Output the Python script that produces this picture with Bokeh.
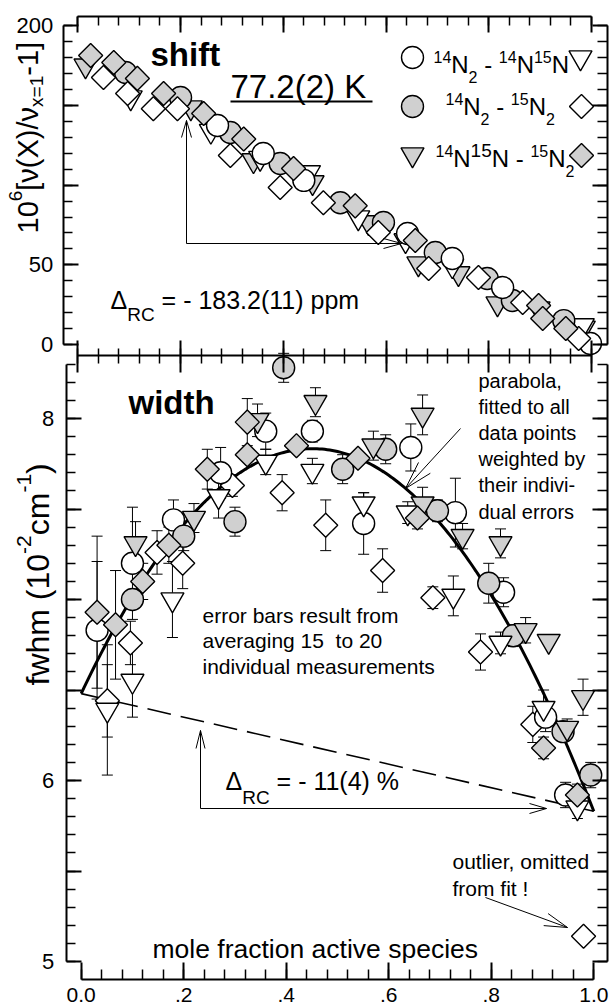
import numpy as np
from bokeh.plotting import figure
from bokeh.models import Range1d, LinearAxis, FixedTicker
from bokeh.core.properties import value
from bokeh.embed import file_html
from bokeh.resources import INLINE

# ---------------- data ----------------
# upper panel: shift 10^6[nu(X)/nu(x=1) - 1]  vs mole fraction
shift_oc_x = [0.272, 0.361, 0.440, 0.642, 0.729, 0.827, 0.998]
shift_oc_y = [137.4, 119.9, 103.0, 69.7, 54.0, 35.8, 0.6]
shift_ot_x = [0.103, 0.259, 0.355, 0.450, 0.546, 0.638, 0.729, 0.983]
shift_ot_y = [155.0, 134.0, 117.0, 108.0, 79.7, 65.3, 49.6, 12.0]
shift_gc_x = [0.093, 0.200, 0.297, 0.394, 0.511, 0.595, 0.696, 0.797, 0.846, 0.946]
shift_gc_y = [170.7, 155.0, 133.0, 113.6, 89.0, 76.6, 57.7, 41.4, 27.6, 15.0]
shift_od_x = [0.050, 0.097, 0.147, 0.194, 0.297, 0.394, 0.478, 0.585, 0.683, 0.780, 0.866, 0.975]
shift_od_y = [167.6, 157.5, 148.0, 148.0, 118.6, 98.5, 89.0, 70.3, 47.7, 42.0, 26.4, 3.8]
shift_gt_x = [0.015, 0.220, 0.342, 0.457, 0.566, 0.663, 0.741, 0.817, 0.897, 0.985]
shift_gt_y = [175.0, 148.7, 115.5, 101.7, 76.6, 50.8, 44.6, 25.7, 22.6, 10.5]
shift_gd_x = [0.025, 0.070, 0.116, 0.167, 0.245, 0.323, 0.420, 0.540, 0.657, 0.897, 0.905, 0.950]
shift_gd_y = [181.4, 177.0, 167.0, 157.5, 145.0, 129.0, 110.4, 87.0, 65.3, 24.5, 16.3, 10.0]

# lower panel: fwhm (10^-2 cm^-1) with error bars
width_oc_x = [0.031, 0.100, 0.180, 0.272, 0.360, 0.451, 0.551, 0.643, 0.730, 0.824, 0.906, 0.945]
width_oc_y = [6.83, 7.20, 7.44, 7.70, 7.93, 7.93, 7.42, 7.84, 7.48, 7.04, 6.35, 5.92]
width_oc_e = [0.38, 0.31, 0.11, 0.14, 0.10, 0.06, 0.17, 0.13, 0.19, 0.08, 0.08, 0.07]
width_ot_x = [0.051, 0.100, 0.178, 0.268, 0.360, 0.451, 0.551, 0.637, 0.726, 0.818, 0.902, 0.968]
width_ot_y = [6.39, 6.55, 7.00, 7.57, 7.76, 7.71, 7.53, 7.48, 7.02, 6.76, 6.40, 5.85]
width_ot_e = [0.36, 0.20, 0.21, 0.12, 0.07, 0.07, 0.06, 0.06, 0.11, 0.06, 0.10, 0.06]
width_gc_x = [0.100, 0.200, 0.300, 0.395, 0.510, 0.594, 0.695, 0.795, 0.843, 0.940, 0.994]
width_gc_y = [7.00, 7.35, 7.43, 8.28, 7.72, 7.83, 7.49, 7.09, 6.80, 6.27, 6.03]
width_gc_e = [0.05, 0.08, 0.08, 0.08, 0.08, 0.08, 0.06, 0.11, 0.06, 0.05, 0.07]
width_od_x = [0.051, 0.096, 0.148, 0.198, 0.295, 0.392, 0.477, 0.588, 0.686, 0.779, 0.881, 0.980]
width_od_y = [6.44, 6.76, 7.26, 7.20, 7.63, 7.59, 7.41, 7.16, 7.01, 6.71, 6.31, 5.14]
width_od_e = [0.20, 0.12, 0.12, 0.14, 0.06, 0.10, 0.14, 0.12, 0.06, 0.10, 0.10, 0.0]
width_gt_x = [0.106, 0.220, 0.344, 0.457, 0.570, 0.666, 0.666, 0.744, 0.818, 0.867, 0.912, 0.948, 0.979]
width_gt_y = [7.31, 7.45, 7.99, 8.09, 7.85, 8.02, 7.53, 7.35, 7.31, 6.83, 6.77, 6.29, 6.46]
width_gt_e = [0.12, 0.08, 0.09, 0.08, 0.08, 0.11, 0.09, 0.07, 0.08, 0.07, 0.02, 0.05, 0.10]
width_gd_x = [0.031, 0.067, 0.120, 0.171, 0.246, 0.324, 0.324, 0.420, 0.540, 0.656, 0.902, 0.968]
width_gd_y = [6.93, 6.86, 7.10, 7.30, 7.72, 7.98, 7.80, 7.85, 7.78, 7.45, 6.18, 5.92]
width_gd_e = [0.42, 0.30, 0.10, 0.10, 0.11, 0.13, 0.0, 0.0, 0.0, 0.06, 0.06, 0.06]

# weighted parabola fit  fwhm = a + b*x + c*x^2
fit_a, fit_b, fit_c = 6.48, 6.00, -6.65

# axis ticks
x_major = [0, 0.2, 0.4, 0.6, 0.8, 1]
x_minor = [round(0.04 * i, 2) for i in range(26)]
x_labels = {0: "0.0", 0.2: ".2", 0.4: ".4", 0.6: ".6", 0.8: ".8", 1: "1.0"}
s_major = [0, 50, 100, 150, 200]
s_minor = list(range(0, 201, 10))
s_labels = {0: "0", 50: "50", 100: "", 150: "", 200: "200"}
w_major = [5, 5.5, 6, 6.5, 7, 7.5, 8]
w_minor = [round(5 + 0.1 * i, 1) for i in range(34)]
w_labels = {5: "5", 5.5: "", 6: "6", 6.5: "", 7: "", 7.5: "", 8: "8"}

# ---------------- layout (page pixels) ----------------
FONT = "Liberation Sans"
W, H = 610, 1006
BX0, BX1 = 80.7, 593.3     # lower x-scale: x=0, x=1
TX0, TX1 = 77.3, 591.0     # upper x-scale
WY5, WY8 = 961.0, 418.0    # fwhm 5 and 8
SY0, SY200 = 344.0, 25.3   # shift 0 and 200
MID = 0.3465               # em offset from text middle to baseline


def bx(px):
    return (px - BX0) / (BX1 - BX0)


def tx(px):
    return (px - TX0) / (TX1 - TX0)


def wy(py):
    return 5 + (WY5 - py) * 3.0 / (WY5 - WY8)


def sy(py):
    return (SY0 - py) * 200.0 / (SY0 - SY200)


p = figure(width=W, height=H, output_backend="svg", toolbar_location=None,
           x_range=Range1d(bx(0), bx(W)), y_range=Range1d(wy(H), wy(0)),
           x_axis_type=None, y_axis_type=None, min_border=0)
p.extra_x_ranges = {"top": Range1d(tx(0), tx(W))}
p.extra_y_ranges = {"shift": Range1d(sy(H), sy(0))}
p.outline_line_color = None
p.background_fill_color = "white"
p.border_fill_color = "white"

AX = dict(axis_line_width=2, axis_line_color="black",
          major_tick_line_width=2, minor_tick_line_width=1.5,
          major_tick_line_color="black", minor_tick_line_color="black",
          major_label_text_font=FONT, major_label_text_color="black")


def hidden_labels(ax):
    ax.major_label_text_color = None
    return ax


# top x axis of upper panel
ax = LinearAxis(x_range_name="top", fixed_location=wy(16), bounds=(0, 1),
                ticker=FixedTicker(ticks=x_major, minor_ticks=x_minor),
                major_tick_in=16, major_tick_out=0, minor_tick_in=9, minor_tick_out=0, **AX)
p.add_layout(hidden_labels(ax), "above")
# shared middle axis
ax = LinearAxis(x_range_name="top", fixed_location=wy(355), bounds=(0, 1),
                ticker=FixedTicker(ticks=x_major, minor_ticks=x_minor),
                major_tick_in=15, major_tick_out=17, minor_tick_in=7, minor_tick_out=8, **AX)
p.add_layout(hidden_labels(ax), "below")
# bottom x axis
ax = LinearAxis(fixed_location=wy(979), bounds=(0, 1),
                ticker=FixedTicker(ticks=x_major, minor_ticks=x_minor),
                major_tick_in=17, major_tick_out=0, minor_tick_in=10, minor_tick_out=0,
                major_label_overrides=x_labels, major_label_standoff=8,
                major_label_text_font_size="21px", **AX)
p.add_layout(ax, "below")
# left axes
ax = LinearAxis(y_range_name="shift", fixed_location=bx(62.7), bounds=(0, 200),
                ticker=FixedTicker(ticks=s_major, minor_ticks=s_minor),
                major_tick_in=15, major_tick_out=0, minor_tick_in=9, minor_tick_out=0,
                major_label_overrides=s_labels, major_label_standoff=10,
                major_label_text_font_size="22px", **AX)
p.add_layout(ax, "left")
ax = LinearAxis(fixed_location=bx(65.7), bounds=(5, 8.3),
                ticker=FixedTicker(ticks=w_major, minor_ticks=w_minor),
                major_tick_in=15, major_tick_out=0, minor_tick_in=9, minor_tick_out=0,
                major_label_overrides=w_labels, major_label_standoff=12,
                major_label_text_font_size="22px", **AX)
p.add_layout(ax, "left")
# right axes
ax = LinearAxis(y_range_name="shift", fixed_location=bx(606.7), bounds=(0, 200),
                ticker=FixedTicker(ticks=s_major, minor_ticks=s_minor),
                major_tick_in=15, major_tick_out=0, minor_tick_in=10, minor_tick_out=0, **AX)
p.add_layout(hidden_labels(ax), "right")
ax = LinearAxis(fixed_location=bx(606.7), bounds=(5, 8.3),
                ticker=FixedTicker(ticks=w_major, minor_ticks=w_minor),
                major_tick_in=15, major_tick_out=0, minor_tick_in=10, minor_tick_out=0, **AX)
p.add_layout(hidden_labels(ax), "right")

GREY = "#d0d0d0"
STY = {
    "oc": dict(marker="circle", size=22, fill_color="white", angle=0.0),
    "gc": dict(marker="circle", size=22, fill_color=GREY, angle=0.0),
    "ot": dict(marker="inverted_triangle", size=23, fill_color="white", angle=0.0),
    "gt": dict(marker="inverted_triangle", size=23, fill_color=GREY, angle=0.0),
    "od": dict(marker="square", size=17, fill_color="white", angle=np.pi / 4),
    "gd": dict(marker="square", size=17, fill_color=GREY, angle=np.pi / 4),
}


def markers(key, xs, ys, **kw):
    s = STY[key]
    p.scatter(xs, ys, marker=s["marker"], size=s["size"], angle=s["angle"],
              fill_color=s["fill_color"], line_color="black", line_width=1.4, **kw)


# ---------------- upper panel ----------------
top = dict(x_range_name="top", y_range_name="shift")
markers("gt", shift_gt_x, shift_gt_y, **top)
markers("ot", shift_ot_x, shift_ot_y, **top)
markers("gc", shift_gc_x, shift_gc_y, **top)
markers("oc", shift_oc_x, shift_oc_y, **top)
markers("od", shift_od_x, shift_od_y, **top)
markers("gd", shift_gd_x, shift_gd_y, **top)

# ---------------- lower panel ----------------
lower = [("od", width_od_x, width_od_y, width_od_e),
         ("oc", width_oc_x, width_oc_y, width_oc_e),
         ("gc", width_gc_x, width_gc_y, width_gc_e),
         ("ot", width_ot_x, width_ot_y, width_ot_e),
         ("gt", width_gt_x, width_gt_y, width_gt_e),
         ("gd", width_gd_x, width_gd_y, width_gd_e)]
for key, xs, ys, es in lower:
    xe = [x for x, e in zip(xs, es) if e > 0]
    lo = [y - e for y, e in zip(ys, es) if e > 0]
    hi = [y + e for y, e in zip(ys, es) if e > 0]
    p.segment(xe, lo, xe, hi, line_color="black", line_width=1)
    p.scatter(xe + xe, lo + hi, marker="dash", size=11, line_color="black", line_width=1)

xf = np.linspace(0, 1, 201)
p.line(xf, fit_a + fit_b * xf + fit_c * xf ** 2, line_color="black", line_width=3)
p.line([0, 1], [fit_a, fit_a + fit_b + fit_c], line_color="black", line_width=1.6,
       line_dash="24 10")

for key, xs, ys, es in lower:
    markers(key, xs, ys)

# ---------------- texts & decorations ----------------
ADV = {' ': 278, '!': 278, '%': 889, '(': 333, ')': 333, ',': 278, '-': 333, '.': 278,
       '/': 278, '=': 584, '[': 278, ']': 278, 'C': 722, 'K': 667, 'N': 722, 'R': 722,
       'X': 667, 'a': 556, 'b': 556, 'c': 500, 'd': 556, 'e': 556, 'f': 278, 'g': 556,
       'h': 556, 'i': 222, 'l': 222, 'm': 833, 'n': 556, 'o': 556, 'p': 556, 'r': 333,
       's': 500, 't': 278, 'u': 556, 'v': 500, 'w': 722, 'x': 500, 'y': 500,
       '\u0394': 668, '\u03bd': 500}


def tw(s, size):
    return sum(ADV.get(ch, 556) for ch in s) / 1000.0 * size


def put(s, px, py, size, vertical=False, bold=False):
    """px, py: start of the text on its baseline (page pixels)."""
    if vertical:
        ax_, ay_, ang = px - MID * size, py, np.pi / 2
    else:
        ax_, ay_, ang = px, py - MID * size, 0.0
    p.text(x=[bx(ax_)], y=[wy(ay_)], text=[s], text_font=value(FONT),
           text_font_size=f"{size}px", text_font_style="bold" if bold else "normal",
           text_align="left", text_baseline="middle", angle=ang, text_color="black")


def rich(pieces, px, py, vertical=False):
    pos = py if vertical else px
    for t, size, sh in pieces:
        lead = (len(t) - len(t.lstrip(" "))) * 0.278 * size
        trail = (len(t) - len(t.rstrip(" "))) * 0.278 * size
        core = t.strip(" ")
        if vertical:
            pos -= lead
            put(core, px + sh, pos, size, vertical=True)
            pos -= tw(core, size) + trail
        else:
            pos += lead
            put(core, pos, py + sh, size)
            pos += tw(core, size) + trail


def seg(pts, lw=1.0):
    p.line([bx(a) for a, b in pts], [wy(b) for a, b in pts], line_color="black", line_width=lw)


def arrow(tail, tip, hl, hw, lw=1.0):
    seg([tail, tip], lw)
    dx, dy = tip[0] - tail[0], tip[1] - tail[1]
    L = (dx * dx + dy * dy) ** 0.5
    ux, uy = dx / L, dy / L
    nx, ny = -uy, ux
    bxp, byp = tip[0] - ux * hl, tip[1] - uy * hl
    seg([(bxp + nx * hw, byp + ny * hw), tip, (bxp - nx * hw, byp - ny * hw)], lw)


put("shift", 150, 65, 33, bold=True)
put("77.2(2) K", 230, 97, 33)
seg([(230, 101), (372, 101)], 1.8)


def legend_marker(key, px, py):
    s = STY[key]
    p.scatter([bx(px)], [wy(py)], marker=s["marker"], size=s["size"], angle=s["angle"],
              fill_color=s["fill_color"], line_color="black", line_width=1.4)


legend_marker("oc", 412, 57)
legend_marker("ot", 580, 57)
legend_marker("gc", 412, 106)
legend_marker("od", 581, 106)
legend_marker("gt", 412, 154)
legend_marker("gd", 581, 155)
rich([("14", 16, -10), ("N", 24, 0), ("2", 16, 10), (" - ", 24, 0), ("14", 16, -10),
      ("N", 24, 0), ("15", 16, -10), ("N", 24, 0)], 433, 72)
rich([("14", 16, -10), ("N", 24, 0), ("2", 16, 10), (" - ", 24, 0), ("15", 16, -10),
      ("N", 24, 0), ("2", 16, 10)], 445, 114)
rich([("14", 16, -10), ("N", 24, 0), ("15", 19, -9), ("N", 24, 0), (" - ", 24, 0),
      ("15", 16, -10), ("N", 24, 0), ("2", 16, 10)], 435, 166)

rich([("\u0394", 25, 0), ("RC", 19, 13), (" = - 183.2(11) ppm", 25, 0)], 110, 308)
arrow((186, 243), (186, 120), 17, 5)
arrow((186, 243), (401, 243), 18, 5)

put("width", 128, 413, 33, bold=True)
for i, line in enumerate(["parabola,", "fitted to all", "data points", "weighted by",
                          "their indivi-", "dual errors"]):
    put(line, 478, 387 + 26.2 * i, 20)
arrow((460, 428), (405, 488), 28, 8)
for i, line in enumerate(["error bars result from", "averaging 15 \u00a0to 20",
                          "individual measurements"]):
    put(line, 202, 622 + 25.5 * i, 21)
rich([("\u0394", 25, 0), ("RC", 19, 15), (" = - 11(4) %", 25, 0)], 225, 789)
arrow((200, 808), (200, 730), 18, 4.5)
arrow((200, 808), (546, 808), 17, 5)
for i, line in enumerate(["outlier, omitted", "from fit !"]):
    put(line, 452, 868 + 27 * i, 21)
arrow((485, 897), (567, 927), 23, 6.4)
put("mole fraction active species", 152, 958, 26.5)

# axis titles (rotated, reading upwards)
rich([("10", 29, 0), ("6", 19, -16), ("[\u03bd(X)/\u03bd", 29, 0), ("x=1", 19, 5),
      ("-1]", 29, 0)], 38, 233, vertical=True)
rich([("fwhm (10", 32, 0), ("-2", 21, -18), ("cm", 32, 0), ("-1", 21, -18), (")", 32, 0)],
     49, 685, vertical=True)

open("out.html", "w").write(file_html(p, INLINE))
